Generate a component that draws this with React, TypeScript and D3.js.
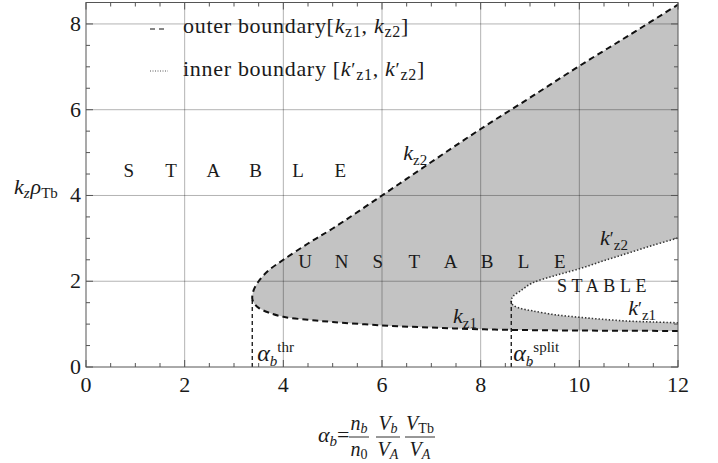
import React from 'react';
import * as d3 from 'd3';

const W = 718;
const H = 463;
const FONT = "'Liberation Serif', 'Times New Roman', 'DejaVu Serif', serif";

// plot frame in pixels
const X0 = 86;
const X1 = 678;
const Y0 = 367;
const Y1 = 2.5;

const xDomain: [number, number] = [0, 12];
const yDomain: [number, number] = [0, 8.5];
const xTicks = [0, 2, 4, 6, 8, 10, 12];
const yTicks = [0, 2, 4, 6, 8];

// outer boundary of the unstable region (first point is the threshold tip)
const outerAlpha = [3.37, 3.4, 3.5, 3.7, 4, 4.5, 5, 6, 7, 8, 9, 10, 11, 12];
const kz2 = [1.6, 1.8, 2.0, 2.25, 2.5, 2.88, 3.23, 4.0, 4.78, 5.55, 6.28, 7.02, 7.73, 8.45];
const kz1 = [1.6, 1.5, 1.38, 1.27, 1.17, 1.1, 1.05, 0.97, 0.92, 0.88, 0.86, 0.85, 0.845, 0.84];

// inner boundary (stable island), first point is the split tip
const innerAlpha = [8.62, 8.65, 8.8, 9.05, 9.5, 10, 10.5, 11, 11.5, 12];
const kz2p = [1.54, 1.64, 1.77, 1.96, 2.13, 2.29, 2.48, 2.66, 2.84, 3.01];
const kz1p = [1.54, 1.45, 1.37, 1.31, 1.22, 1.16, 1.11, 1.07, 1.05, 1.03];

const alphaThr = 3.37;
const kThr = 1.6;
const alphaSplit = 8.62;
const kSplit = 1.54;

const stableBig = ['S', 'T', 'A', 'B', 'L', 'E'];
const unstable = ['U', 'N', 'S', 'T', 'A', 'B', 'L', 'E'];

type Pt = [number, number];

function boundary(alpha: number[], upper: number[], lower: number[]): Pt[] {
  const low: Pt[] = alpha.map((a, i) => [a, lower[i]] as Pt).reverse();
  const up: Pt[] = alpha.slice(1).map((a, i) => [a, upper[i + 1]] as Pt);
  return [...low, ...up];
}

const serif = { fontFamily: FONT };

export default function App() {
  const x = d3.scaleLinear().domain(xDomain).range([X0, X1]);
  const y = d3.scaleLinear().domain(yDomain).range([Y0, Y1]);

  const line = d3
    .line<Pt>()
    .x((d) => x(d[0]))
    .y((d) => y(d[1]))
    .curve(d3.curveCatmullRom.alpha(0.5));

  const outerPts = boundary(outerAlpha, kz2, kz1);
  const innerPts = boundary(innerAlpha, kz2p, kz1p);
  const outerPath = line(outerPts) as string;
  const innerPath = line(innerPts) as string;

  const minorX = d3.range(0, 12.01, 0.5);
  const minorY = d3.range(0, 8.51, 0.5);

  const gridColor = 'rgba(0,0,0,0.3)';
  const frameColor = '#555';
  const textColor = '#1a1a1a';

  const subSize = 15;

  const kLabel = (ax: number, ky: number, sub: string, prime: boolean, key: string) => (
    <text key={key} x={x(ax)} y={y(ky)} style={serif} fontSize={22} fill={textColor}>
      <tspan fontStyle="italic">k</tspan>
      {prime && <tspan fontSize={18}>′</tspan>}
      <tspan fontSize={subSize} dy={5}>{sub}</tspan>
    </text>
  );

  const alphaLabel = (ax: number, sup: string, key: string) => (
    <text key={key} x={x(ax)} y={y(0.15)} style={serif} fontSize={24} fill={textColor}>
      <tspan fontStyle="italic">α</tspan>
      <tspan fontStyle="italic" fontSize={subSize} dy={5}>b</tspan>
      <tspan fontSize={subSize} dx={0} dy={-14}>{sup}</tspan>
    </text>
  );

  const stepBig = 42.3;
  const cBig = 234.5;
  const stepUn = 36.4;
  const cUn = 432.5;

  return (
    <svg
      width={W}
      height={H}
      viewBox={`0 0 ${W} ${H}`}
      style={{ position: 'absolute', left: 0, top: 0, background: '#fff' }}
    >
      <defs>
        <clipPath id="plotArea">
          <rect x={X0} y={Y1} width={X1 - X0} height={Y0 - Y1} />
        </clipPath>
      </defs>

      <g clipPath="url(#plotArea)">
        {/* unstable region */}
        <path d={outerPath + 'Z'} fill="#c3c3c3" stroke="none" />
        {/* stable island */}
        <path d={innerPath + 'Z'} fill="#fff" stroke="none" />

        {/* grid */}
        {xTicks.slice(1, -1).map((t) => (
          <line key={'gx' + t} x1={x(t)} x2={x(t)} y1={Y0} y2={Y1} stroke={gridColor} strokeWidth={1} />
        ))}
        {yTicks.slice(1).map((t) => (
          <line key={'gy' + t} x1={X0} x2={X1} y1={y(t)} y2={y(t)} stroke={gridColor} strokeWidth={1} />
        ))}

        {/* boundaries */}
        <path d={outerPath} fill="none" stroke="#111" strokeWidth={2} strokeDasharray="6 4" />
        <path d={innerPath} fill="none" stroke="#333" strokeWidth={1.6} strokeDasharray="1.4 2" />
        <line
          x1={x(alphaThr)} x2={x(alphaThr)} y1={y(0)} y2={y(kThr)}
          stroke="#111" strokeWidth={1.3} strokeDasharray="4 3"
        />
        <line
          x1={x(alphaSplit)} x2={x(alphaSplit)} y1={y(0)} y2={y(kSplit)}
          stroke="#111" strokeWidth={1.3} strokeDasharray="4 3"
        />
      </g>

      {/* frame */}
      <rect x={X0} y={Y1} width={X1 - X0} height={Y0 - Y1} fill="none" stroke={frameColor} strokeWidth={1} />

      {/* ticks, inward on all sides */}
      {minorX.map((t) => {
        const major = Math.abs(t - Math.round(t / 2) * 2) < 1e-6;
        const len = major ? 7 : 4;
        return (
          <g key={'tx' + t} stroke={frameColor} strokeWidth={1}>
            <line x1={x(t)} x2={x(t)} y1={Y0} y2={Y0 - len} />
            <line x1={x(t)} x2={x(t)} y1={Y1} y2={Y1 + len} />
          </g>
        );
      })}
      {minorY.map((t) => {
        const major = Math.abs(t - Math.round(t / 2) * 2) < 1e-6;
        const len = major ? 7 : 4;
        return (
          <g key={'ty' + t} stroke={frameColor} strokeWidth={1}>
            <line x1={X0} x2={X0 + len} y1={y(t)} y2={y(t)} />
            <line x1={X1} x2={X1 - len} y1={y(t)} y2={y(t)} />
          </g>
        );
      })}

      {/* tick labels */}
      {xTicks.map((t) => (
        <text key={'lx' + t} x={x(t)} y={392} textAnchor="middle" style={serif} fontSize={22} fill={textColor}>
          {t}
        </text>
      ))}
      {yTicks.map((t) => (
        <text key={'ly' + t} x={81} y={y(t) + 7} textAnchor="end" style={serif} fontSize={22} fill={textColor}>
          {t}
        </text>
      ))}

      {/* y-axis title */}
      <text x={14} y={194} style={serif} fontSize={22} fill={textColor}>
        <tspan fontStyle="italic">k</tspan>
        <tspan fontStyle="italic" fontSize={subSize} dy={4}>z</tspan>
        <tspan fontStyle="italic" dy={-4} dx={1}>ρ</tspan>
        <tspan fontSize={subSize} dy={4}>Tb</tspan>
      </text>

      {/* x-axis title */}
      <g style={serif} fill={textColor}>
        <text x={318} y={442} fontSize={22}>
          <tspan fontStyle="italic">α</tspan>
          <tspan fontStyle="italic" fontSize={subSize} dy={4}>b</tspan>
          <tspan dy={-4}>=</tspan>
        </text>
        {[
          { cx: 359, num: 'n', numSub: 'b', numSubItalic: true, den: 'n', denSub: '0', denSubItalic: false, w: 20 },
          { cx: 388, num: 'V', numSub: 'b', numSubItalic: true, den: 'V', denSub: 'A', denSubItalic: true, w: 24 },
          { cx: 420, num: 'V', numSub: 'Tb', numSubItalic: false, den: 'V', denSub: 'A', denSubItalic: true, w: 30 },
        ].map((f, i) => (
          <g key={'frac' + i}>
            <text x={f.cx} y={430} textAnchor="middle" fontSize={20}>
              <tspan fontStyle="italic">{f.num}</tspan>
              <tspan fontStyle={f.numSubItalic ? 'italic' : 'normal'} fontSize={14} dy={3}>{f.numSub}</tspan>
            </text>
            <line x1={f.cx - f.w / 2} x2={f.cx + f.w / 2} y1={437} y2={437} stroke={textColor} strokeWidth={0.9} />
            <text x={f.cx} y={456} textAnchor="middle" fontSize={20}>
              <tspan fontStyle="italic">{f.den}</tspan>
              <tspan fontStyle={f.denSubItalic ? 'italic' : 'normal'} fontSize={14} dy={3}>{f.denSub}</tspan>
            </text>
          </g>
        ))}
      </g>

      {/* region labels */}
      {stableBig.map((c, i) => (
        <text key={'sb' + i} x={cBig + (i - 2.5) * stepBig} y={177} textAnchor="middle" style={serif} fontSize={19} fill={textColor}>
          {c}
        </text>
      ))}
      {unstable.map((c, i) => (
        <text key={'un' + i} x={cUn + (i - 3.5) * stepUn} y={268} textAnchor="middle" style={serif} fontSize={19} fill={textColor}>
          {c}
        </text>
      ))}
      <text x={557} y={292} style={serif} fontSize={18} letterSpacing={4.6} fill={textColor}>
        STABLE
      </text>

      {/* curve labels */}
      {kLabel(6.43, 4.83, 'z2', false, 'k2')}
      {kLabel(10.42, 2.84, 'z2', true, 'k2p')}
      {kLabel(10.99, 1.21, 'z1', true, 'k1p')}
      {kLabel(7.44, 1.03, 'z1', false, 'k1')}
      {alphaLabel(3.47, 'thr', 'athr')}
      {alphaLabel(8.66, 'split', 'asplit')}

      {/* legend */}
      <g style={serif} fill={textColor}>
        <line x1={150} x2={168} y1={29} y2={29} stroke="#111" strokeWidth={1.2} strokeDasharray="5 4" />
        <text x={183} y={33} fontSize={22} letterSpacing={0.7}>
          <tspan>outer boundary[</tspan>
          <tspan fontStyle="italic">k</tspan>
          <tspan fontSize={16} dy={4}>z1</tspan>
          <tspan dy={-4}>, </tspan>
          <tspan fontStyle="italic">k</tspan>
          <tspan fontSize={16} dy={4}>z2</tspan>
          <tspan dy={-4}>]</tspan>
        </text>
        <line x1={150} x2={168} y1={71} y2={71} stroke="#555" strokeWidth={1} strokeDasharray="1 1.5" />
        <text x={183} y={76} fontSize={22} letterSpacing={0.7}>
          <tspan>inner boundary [</tspan>
          <tspan fontStyle="italic">k</tspan>
          <tspan fontSize={19}>′</tspan>
          <tspan fontSize={16} dy={4}>z1</tspan>
          <tspan dy={-4}>, </tspan>
          <tspan fontStyle="italic">k</tspan>
          <tspan fontSize={19}>′</tspan>
          <tspan fontSize={16} dy={4}>z2</tspan>
          <tspan dy={-4}>]</tspan>
        </text>
      </g>
    </svg>
  );
}
